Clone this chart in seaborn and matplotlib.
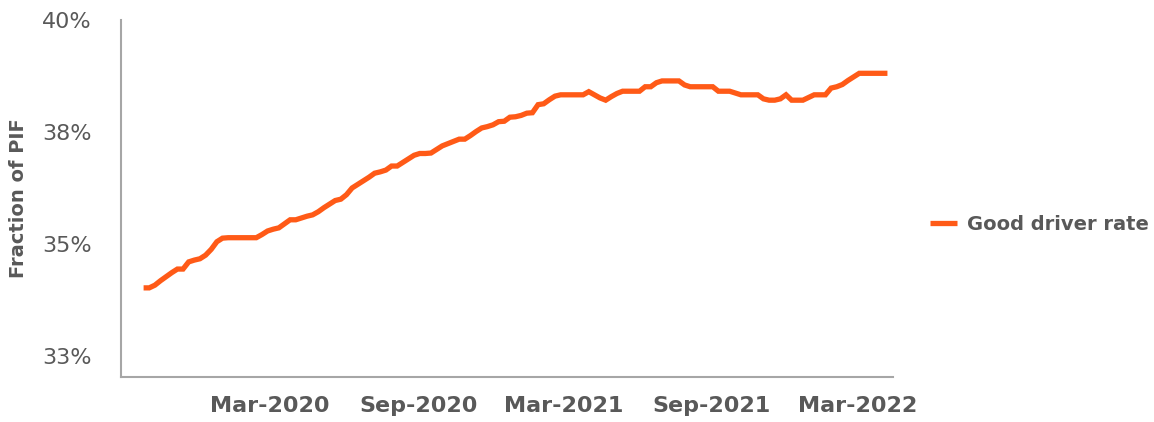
import pandas as pd
import numpy as np
import seaborn as sns
import matplotlib.pyplot as plt
import matplotlib.dates as mdates

# Weekly good driver rate (% of PIF)
start_date = '2019-09-26'
good_driver_rate = [
    34.02, 34.02, 34.08, 34.18, 34.27, 34.36, 34.44, 34.44, 34.60, 34.64,
    34.67, 34.75, 34.88, 35.05, 35.13, 35.14, 35.14, 35.14, 35.14, 35.14,
    35.14, 35.21, 35.29, 35.33, 35.36, 35.45, 35.54, 35.54, 35.58, 35.62,
    35.65, 35.72, 35.81, 35.89, 35.97, 36.00, 36.10, 36.25, 36.33, 36.41,
    36.49, 36.58, 36.61, 36.65, 36.74, 36.74, 36.82, 36.90, 36.98, 37.02,
    37.02, 37.03, 37.11, 37.19, 37.24, 37.29, 37.34, 37.34, 37.42, 37.51,
    37.59, 37.62, 37.66, 37.73, 37.74, 37.83, 37.84, 37.87, 37.92, 37.93,
    38.11, 38.13, 38.22, 38.30, 38.33, 38.33, 38.33, 38.33, 38.33, 38.40,
    38.33, 38.26, 38.21, 38.29, 38.36, 38.41, 38.41, 38.41, 38.41, 38.51,
    38.51, 38.60, 38.64, 38.64, 38.64, 38.64, 38.55, 38.51, 38.51, 38.51,
    38.51, 38.51, 38.41, 38.41, 38.41, 38.37, 38.33, 38.33, 38.33, 38.33,
    38.24, 38.21, 38.21, 38.24, 38.33, 38.21, 38.21, 38.21, 38.27, 38.33,
    38.33, 38.33, 38.48, 38.51, 38.56, 38.65, 38.73, 38.81, 38.81, 38.81,
    38.81, 38.81, 38.81,
]
ytick_values = [32.5, 35, 37.5, 40]
ytick_labels = ['33%', '35%', '38%', '40%']
xtick_dates = ['2020-03-01', '2020-09-01', '2021-03-01', '2021-09-01', '2022-03-01']

df = pd.DataFrame({
    'Date': pd.date_range(start_date, periods=len(good_driver_rate), freq='7D'),
    'Rate': good_driver_rate,
})

sns.set_style('white')
plt.rcParams['font.family'] = ['DejaVu Sans']

text_color = '#595959'
line_color = '#FF5A17'

fig = plt.figure(figsize=(11.54, 4.22), dpi=100)
ax = fig.add_axes([0.1049, 0.1066, 0.669, 0.846])

sns.lineplot(ax=ax, data=df, x='Date', y='Rate', color=line_color,
             linewidth=3.8, label='Good driver rate', legend=False)
ax.lines[0].set_solid_capstyle('butt')
ax.lines[0].set_solid_joinstyle('miter')

ax.set_ylim(32.03, 40)
ax.set_xlim(pd.Timestamp('2019-08-29'), pd.Timestamp('2022-04-14'))
ax.set_yticks(ytick_values)
ax.set_yticklabels(ytick_labels)
ax.set_xticks(pd.to_datetime(xtick_dates))
ax.xaxis.set_major_formatter(mdates.DateFormatter('%b-%Y'))

ax.tick_params(axis='y', length=0, pad=21, labelsize=16, labelcolor=text_color)
ax.tick_params(axis='x', length=0, pad=14, labelsize=16, labelcolor=text_color)
for lbl in ax.get_xticklabels():
    lbl.set_fontweight('bold')

ax.set_xlabel('')
ax.set_ylabel('Fraction of PIF', fontsize=14, fontweight='bold', color=text_color, labelpad=10)

sns.despine(ax=ax)
for side in ['left', 'bottom']:
    ax.spines[side].set_color('#A6A6A6')
    ax.spines[side].set_linewidth(1.5)
ax.grid(False)

handles, labels = ax.get_legend_handles_labels()
leg = fig.legend(handles, labels, loc='center left', bbox_to_anchor=(0.806, 0.469),
                 frameon=False, fontsize=14, handlelength=1.4, handletextpad=0.5,
                 borderpad=0, borderaxespad=0)
for t in leg.get_texts():
    t.set_color(text_color)
    t.set_fontweight('bold')

plt.savefig('out.png', dpi=100)
plt.close()
